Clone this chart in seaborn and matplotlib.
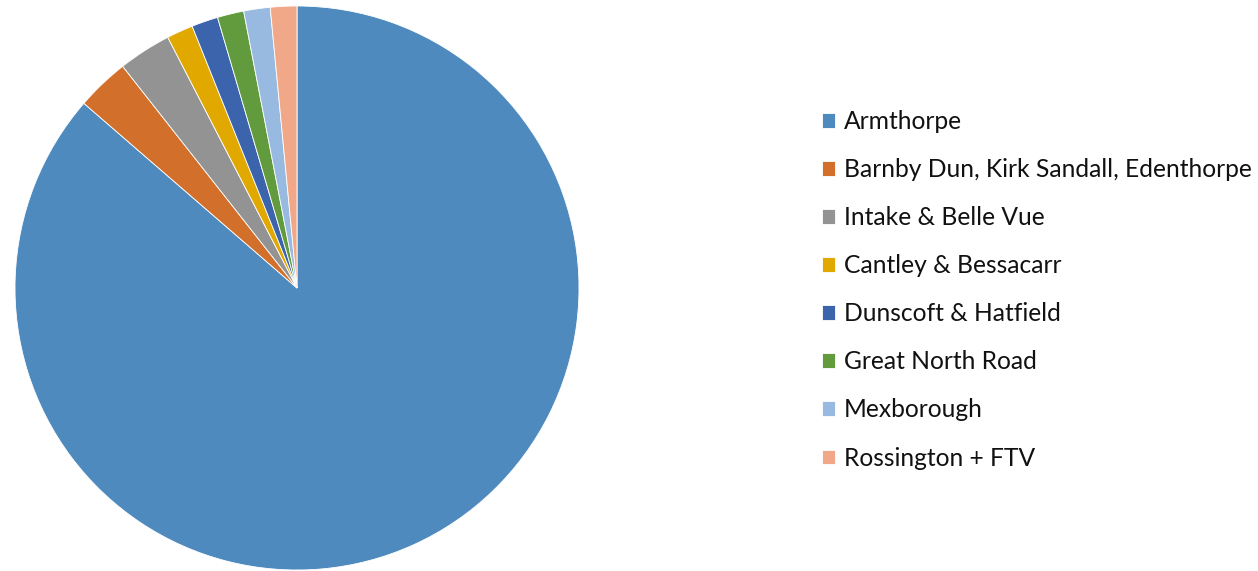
import matplotlib
matplotlib.use("Agg")
import matplotlib.pyplot as plt
import seaborn as sns

wards = ["Armthorpe", "Barnby Dun, Kirk Sandall, Edenthorpe", "Intake & Belle Vue",
         "Cantley & Bessacarr", "Dunscoft & Hatfield", "Great North Road",
         "Mexborough", "Rossington + FTV"]
counts = [57, 2, 2, 1, 1, 1, 1, 1]
colours = ["#4E8ABE", "#D26F2A", "#939393", "#E1A900", "#3B64AD", "#629B3E", "#98B9E0", "#F1A889"]

sns.set_theme(style="white")
plt.rcParams["font.family"] = ["Lato", "DejaVu Sans"]

fig = plt.figure(figsize=(12.58, 5.71), dpi=100)
ax = fig.add_axes([15 / 1258, 1 / 571, 564 / 1258, 564 / 571])
wedges, _ = ax.pie(counts, colors=colours, startangle=90, counterclock=False,
                   radius=1, wedgeprops={"edgecolor": "white", "linewidth": 0.6})
ax.set_xlim(-1, 1)
ax.set_ylim(-1, 1)
ax.set_aspect("equal")
ax.axis("off")

fig.legend(wedges, wards, loc="upper left", bbox_to_anchor=(822 / 1258, 1 - 110 / 571),
           frameon=False, fontsize=17.7, handlelength=0.53, handleheight=0.53,
           handletextpad=0.36, labelspacing=1.02, borderaxespad=0, borderpad=0,
           labelcolor="#111111")

fig.savefig("out.png", dpi=100)
